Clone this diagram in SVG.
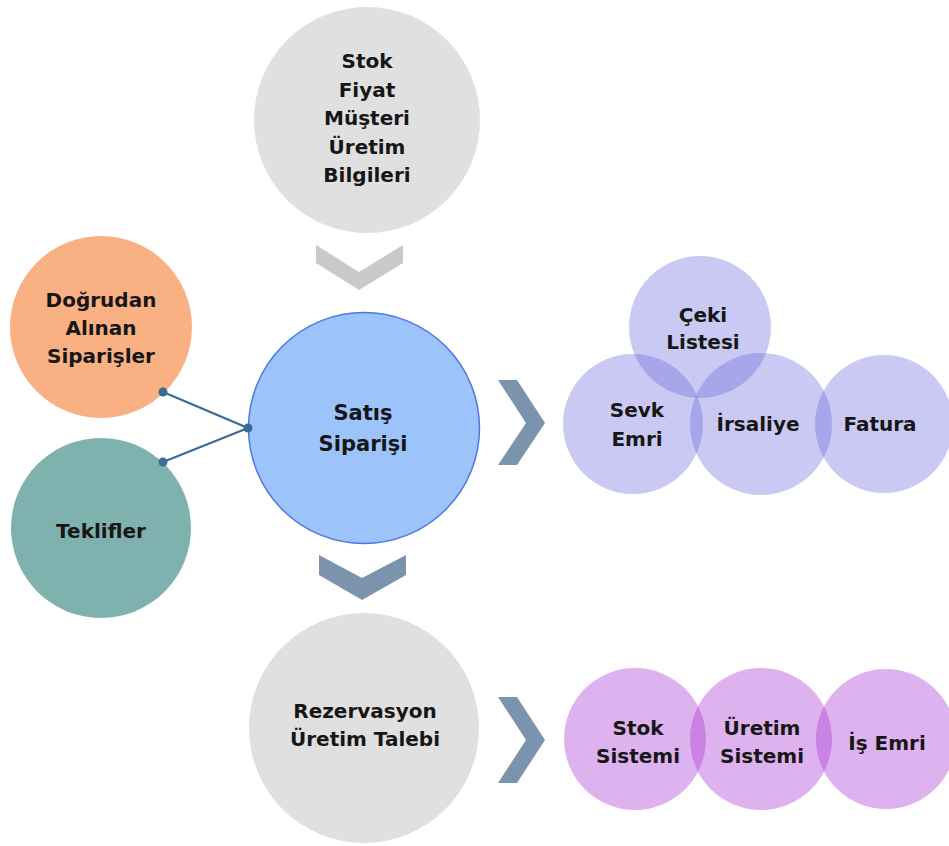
<svg xmlns="http://www.w3.org/2000/svg" width="949" height="846" viewBox="0 0 949 846">
<style>
  text { font-family: "DejaVu Sans", Verdana, sans-serif; font-weight: bold; font-size: 20px; fill: #161616; text-anchor: middle; }
  .gray { fill: #e0e0e0; }
  .lav { fill: #6b69de; fill-opacity: 0.36; }
  .mag { fill: #ac3cd7; fill-opacity: 0.4; }
  .chevG { fill: #c9c9c9; }
  .chevS { fill: #7b93ac; }
  .conn { stroke: #3d6b98; stroke-width: 2.4; fill: none; }
  .dot { fill: #3d6b98; }
</style>
<rect width="949" height="846" fill="#ffffff"/>

<g id="bilgiler">
  <circle class="gray" cx="367" cy="120" r="113"/>
  <text x="367" y="68">Stok</text>
  <text x="367" y="96.5">Fiyat</text>
  <text x="367" y="125">Müşteri</text>
  <text x="367" y="153.5">Üretim</text>
  <text x="367" y="182">Bilgileri</text>
</g>

<g id="dogrudan">
  <circle cx="101" cy="327" r="91" fill="#f9b083"/>
  <text x="101" y="307">Doğrudan</text>
  <text x="101" y="335">Alınan</text>
  <text x="101" y="363">Siparişler</text>
</g>

<g id="teklifler">
  <circle cx="101" cy="528" r="90" fill="#7fb1ae"/>
  <text x="101" y="538">Teklifler</text>
</g>

<g id="satis">
  <circle cx="364" cy="428" r="115.5" fill="#9dc3fb" stroke="#4b78e2" stroke-width="1.5"/>
  <text x="363" y="420" style="font-size:21px">Satış</text>
  <text x="363" y="451" style="font-size:21px">Siparişi</text>
</g>

<g id="sevk-cluster">
  <g id="ceki"><circle class="lav" cx="700" cy="327" r="71"/></g>
  <g id="sevk"><circle class="lav" cx="633" cy="424" r="70"/></g>
  <g id="irsaliye"><circle class="lav" cx="761" cy="424" r="71"/></g>
  <g id="fatura"><circle class="lav" cx="884" cy="424" r="69"/></g>
  <text x="703" y="322">Çeki</text>
  <text x="703" y="349">Listesi</text>
  <text x="637" y="417">Sevk</text>
  <text x="637" y="446">Emri</text>
  <text x="758" y="431">İrsaliye</text>
  <text x="880" y="431">Fatura</text>
</g>

<g id="rezervasyon">
  <circle class="gray" cx="364" cy="728" r="115"/>
  <text x="365" y="718">Rezervasyon</text>
  <text x="365" y="746">Üretim Talebi</text>
</g>

<g id="uretim-cluster">
  <g id="stok-sistemi"><circle class="mag" cx="635" cy="739" r="71"/></g>
  <g id="uretim-sistemi"><circle class="mag" cx="761" cy="739" r="71"/></g>
  <g id="is-emri"><circle class="mag" cx="886" cy="739" r="70"/></g>
  <text x="638" y="735">Stok</text>
  <text x="638" y="763">Sistemi</text>
  <text x="762" y="735">Üretim</text>
  <text x="762" y="763">Sistemi</text>
  <text x="887" y="750">İş Emri</text>
</g>

<g id="connectors">
  <line class="conn" x1="163" y1="392" x2="248" y2="428"/>
  <line class="conn" x1="163" y1="462" x2="248" y2="428"/>
  <circle class="dot" cx="163" cy="392" r="4.5"/>
  <circle class="dot" cx="163" cy="462" r="4.5"/>
  <circle class="dot" cx="248" cy="428" r="4.5"/>
  <polygon class="chevG" points="316,245 359,272 403,245 403,263 359,290 316,263"/>
  <polygon class="chevS" points="319,555 362,578 406,555 406,575 362,600 319,575"/>
  <polygon class="chevS" points="498,380 517,380 545,423 517,465 498,465 526,423"/>
  <polygon class="chevS" points="498,697 517,697 545,740 517,783 498,783 526,740"/>
</g>
</svg>
